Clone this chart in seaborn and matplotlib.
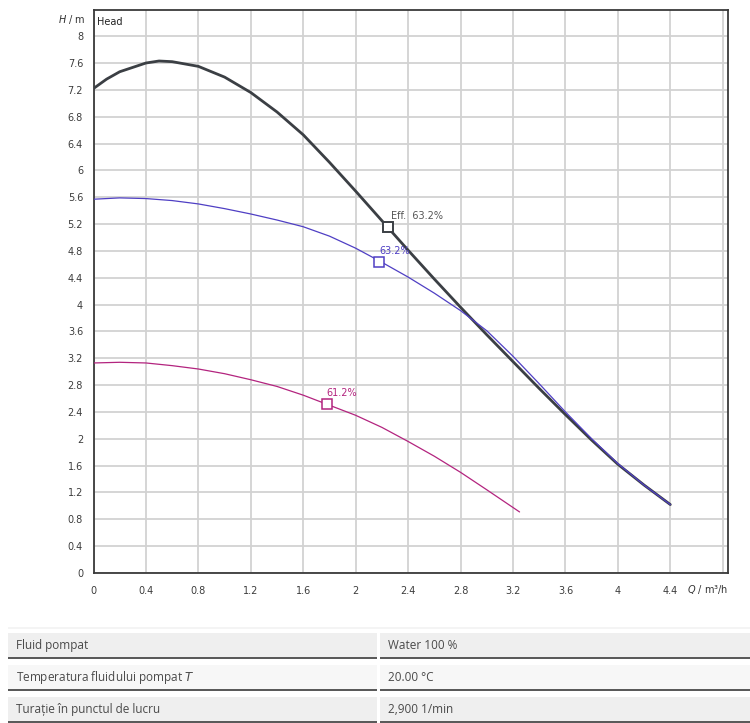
"""
Pump head curves (H vs Q) with duty-point table underneath.
"""

import numpy as np
import pandas as pd
import matplotlib
matplotlib.use("Agg")
import matplotlib.pyplot as plt
from matplotlib.patches import Rectangle
from matplotlib.ticker import MultipleLocator, FuncFormatter
import seaborn as sns

# ---------------------------------------------------------------------------
# Data
# ---------------------------------------------------------------------------
q_max = [0, 0.1, 0.2, 0.4, 0.5, 0.6, 0.8, 1.0, 1.2, 1.4, 1.6, 1.8, 2.0, 2.2,
         2.4, 2.6, 2.8, 3.0, 3.2, 3.4, 3.6, 3.8, 4.0, 4.2, 4.4]
h_max = [7.22, 7.36, 7.47, 7.60, 7.63, 7.62, 7.55, 7.39, 7.16, 6.87, 6.53, 6.12,
         5.69, 5.25, 4.81, 4.38, 3.96, 3.55, 3.15, 2.75, 2.36, 1.98, 1.62, 1.31,
         1.02]

q_mid = [0, 0.2, 0.4, 0.6, 0.8, 1.0, 1.2, 1.4, 1.6, 1.8, 2.0, 2.2, 2.4, 2.6,
         2.8, 3.0, 3.2, 3.4, 3.6, 3.8, 4.0, 4.2, 4.4]
h_mid = [5.57, 5.59, 5.58, 5.55, 5.50, 5.43, 5.35, 5.26, 5.16, 5.02, 4.84, 4.63,
         4.41, 4.17, 3.91, 3.61, 3.23, 2.82, 2.40, 2.00, 1.63, 1.31, 1.02]

q_min = [0, 0.2, 0.4, 0.6, 0.8, 1.0, 1.2, 1.4, 1.6, 1.8, 2.0, 2.2, 2.4, 2.6,
         2.8, 3.0, 3.25]
h_min = [3.13, 3.14, 3.13, 3.09, 3.04, 2.97, 2.88, 2.78, 2.65, 2.50, 2.35, 2.17,
         1.96, 1.74, 1.50, 1.24, 0.91]

# best-efficiency points
eff_q = [2.25, 2.18, 1.78]
eff_h = [5.16, 4.64, 2.52]
eff_labels = ["Eff.  63.2%", "63.2%", "61.2%"]

table_labels = ["Fluid pompat", r"Temperatura fluidului pompat $T$",
                "Turație în punctul de lucru"]
table_values = ["Water 100 %", "20.00 °C", "2,900 1/min"]

# ---------------------------------------------------------------------------
# Style
# ---------------------------------------------------------------------------
COL_MAX = "#3b3f44"
COL_MID = "#4f3fc4"
COL_MIN = "#b3247f"
TXT = "#3c3c3c"

sns.set_style("white")
plt.rcParams["font.family"] = ["DejaVu Sans"]
plt.rcParams["mathtext.fontset"] = "custom"
plt.rcParams["mathtext.it"] = "DejaVu Sans:italic"
plt.rcParams["mathtext.rm"] = "DejaVu Sans"

W, H = 750, 723
fig = plt.figure(figsize=(W / 100, H / 100), dpi=100)
fig.patch.set_facecolor("white")

ax = fig.add_axes([93.5 / W, 150 / H, (728 - 93.5) / W, (573 - 10) / H])
ax.set_facecolor("white")

curves = pd.concat([
    pd.DataFrame({"Q": q_max, "H": h_max, "curve": "max"}),
    pd.DataFrame({"Q": q_mid, "H": h_mid, "curve": "mid"}),
    pd.DataFrame({"Q": q_min, "H": h_min, "curve": "min"}),
])

widths = {"max": 2.0, "mid": 0.9, "min": 0.9}
colors = {"max": COL_MAX, "mid": COL_MID, "min": COL_MIN}
for name, sub in curves.groupby("curve"):
    sns.lineplot(data=sub, x="Q", y="H", ax=ax, color=colors[name],
                 linewidth=widths[name], estimator=None, zorder=3)

for q, h, lab, c, ms in zip(eff_q, eff_h, eff_labels,
                            [COL_MAX, COL_MID, COL_MIN], [7, 6.5, 6.5]):
    ax.plot(q, h, marker="s", ms=ms, mfc="white", mec=c,
            mew=1.4 if c == COL_MAX else 1.1, zorder=4)
    ax.annotate(lab, (q, h), xytext=(2 if c == COL_MAX else 0, 4),
                textcoords="offset points", fontsize=7,
                color="#555555" if c == COL_MAX else c, va="bottom", ha="left")

ax.set_xlim(0, 4.84)
ax.set_ylim(0, 8.39)
ax.set_xlabel("")
ax.set_ylabel("")

ax.xaxis.set_major_locator(MultipleLocator(0.4))
ax.xaxis.set_minor_locator(MultipleLocator(0.1))
ax.yaxis.set_major_locator(MultipleLocator(0.4))
ax.yaxis.set_minor_locator(MultipleLocator(0.1))


def _fmt_x(v, pos):
    if v > 4.5:
        return ""
    return f"{round(v, 1):g}"


ax.xaxis.set_major_formatter(FuncFormatter(_fmt_x))
ax.yaxis.set_major_formatter(FuncFormatter(lambda v, p: f"{round(v, 1):g}"))

ax.tick_params(axis="both", which="major", direction="out", length=5.5,
               width=1.0, color="#333333", labelsize=7, labelcolor=TXT, pad=2)
ax.tick_params(axis="both", which="minor", direction="out", length=3.5,
               width=1.0, color="#333333")
ax.tick_params(axis="x", which="major", pad=4)

ax.grid(True, which="major", color="#d2d2d2", linewidth=1.3, zorder=0)
ax.set_axisbelow(True)
for sp in ax.spines.values():
    sp.set_visible(True)
    sp.set_color("#3a3a3a")
    sp.set_linewidth(1.3)

ax.text(0.006, 0.988, "Head", transform=ax.transAxes, fontsize=7, color="#222222",
        ha="left", va="top")
fig.text(86 / W, 1 - 20 / H, r"$H$ / m", fontsize=7, color="#333333",
         ha="right", va="center")
fig.text(687 / W, 1 - 590 / H, r"$Q$ / m³/h", fontsize=7, color="#333333",
         ha="left", va="center")

# ---------------------------------------------------------------------------
# Table underneath
# ---------------------------------------------------------------------------
tab = fig.add_axes([0, 0, 1, 1], zorder=-1)
tab.set_xlim(0, W)
tab.set_ylim(H, 0)
tab.axis("off")
tab.patch.set_visible(False)

row_tops = [633, 665, 697]
row_fill = ["#efefef", "#f7f7f7", "#efefef"]
col_spans = [(8, 377), (380, 750)]
tab.add_patch(Rectangle((8, 626.5), 742, 2, color="#f4f4f4", lw=0))
for top, fill, lab, val in zip(row_tops, row_fill, table_labels, table_values):
    for x0, x1 in col_spans:
        tab.add_patch(Rectangle((x0, top), x1 - x0, 24, color=fill, lw=0))
        tab.add_patch(Rectangle((x0, top + 24), x1 - x0, 1.8, color="#5a5a5a", lw=0))
    tab.text(16, top + 12.5, lab, fontsize=8.5, color="#4a4a4a", va="center",
             ha="left", family=["Open Sans", "DejaVu Sans"])
    tab.text(388, top + 12.5, val, fontsize=8.5, color="#4a4a4a", va="center",
             ha="left", family=["Open Sans", "DejaVu Sans"])

fig.savefig("out.png", dpi=100, facecolor="white")
